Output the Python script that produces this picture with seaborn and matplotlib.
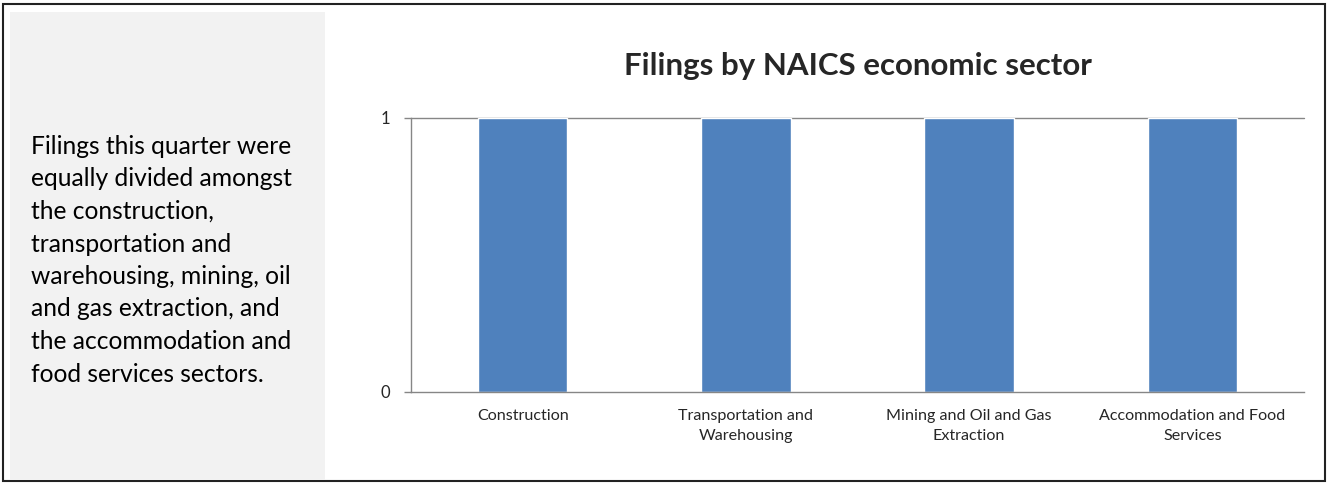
import matplotlib
matplotlib.use("Agg")
import matplotlib.pyplot as plt
import matplotlib.patches as mpatches
import pandas as pd
import seaborn as sns

# datos
sectores = ["Construction", "Transportation and\nWarehousing",
            "Mining and Oil and Gas\nExtraction", "Accommodation and Food\nServices"]
filings = [1, 1, 1, 1]
titulo = "Filings by NAICS economic sector"
nota = ("Filings this quarter were\nequally divided amongst\nthe construction,\n"
        "transportation and\nwarehousing, mining, oil\nand gas extraction, and\n"
        "the accommodation and\nfood services sectors.")

sns.set_style("white")
plt.rcParams['font.family'] = ['Lato', 'DejaVu Sans']

df = pd.DataFrame({"sector": sectores, "filings": filings})

fig = plt.figure(figsize=(13.28, 4.84), dpi=100)

# marco exterior y panel gris
fig.patches.append(mpatches.Rectangle((3/1328, 3/484), 1322/1328, 477/484,
                                      transform=fig.transFigure, fill=False,
                                      edgecolor="#222222", linewidth=1.5))
fig.patches.append(mpatches.Rectangle((10/1328, 4/484), 315/1328, 468/484,
                                      transform=fig.transFigure, facecolor="#F2F2F2",
                                      edgecolor="none"))
fig.text(31/1328, 1 - 135/484, nota, ha="left", va="top", fontsize=17.7,
         linespacing=1.50, color="black")

ax = fig.add_axes([411/1328, 1 - 392/484, 893/1328, 274/484])
sns.barplot(data=df, x="sector", y="filings", color="#4F81BD", width=0.4,
            saturation=1, ax=ax)

ax.set_ylim(0, 1)
ax.set_xlim(-0.5, len(sectores) - 0.5)
ax.set_yticks([0, 1])
ax.set_yticklabels(["0", "1"], fontsize=12)
ax.set_xlabel("")
ax.set_ylabel("")
ax.set_xticks(range(len(sectores)))
ax.set_xticklabels(sectores, fontsize=11.6, linespacing=1.55)
ax.set_xticks([i - 0.5 for i in range(len(sectores) + 1)], minor=True)
ax.tick_params(axis="x", which="major", length=0, pad=12)
ax.tick_params(axis="x", which="minor", length=5, color="#868686", width=1)
ax.tick_params(axis="y", length=5, color="#868686", width=1, pad=10, left=True)

for s in ["top", "right"]:
    ax.spines[s].set_visible(False)
for s in ["left", "bottom"]:
    ax.spines[s].set_color("#868686")
    ax.spines[s].set_linewidth(1)
ax.axhline(1, color="#868686", linewidth=1, clip_on=False, zorder=0)

fig.text(858/1328, 1 - 66/484, titulo, ha="center", va="center",
         fontsize=22.5, fontweight="bold")

fig.savefig("out.png", dpi=100)
